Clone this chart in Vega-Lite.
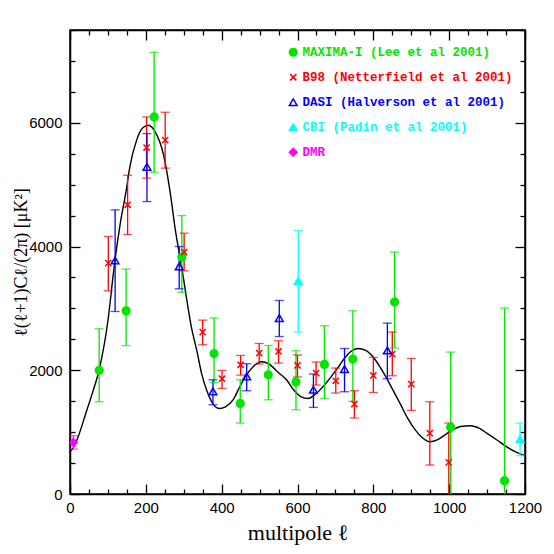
{
  "$schema": "https://vega.github.io/schema/vega-lite/v6.json",
  "width": 455,
  "height": 464,
  "autosize": "none",
  "padding": {"left": 70, "top": 30, "right": 29, "bottom": 60},
  "background": "white",
  "resolve": {"axis": {"x": "independent", "y": "independent"}},
  "config": {
    "view": {"stroke": "black", "strokeWidth": 1.5},
    "axis": {"grid": false, "domainColor": "black", "domainWidth": 1.5, "tickColor": "black", "tickWidth": 1.3, "labelColor": "black", "labelFont": "Liberation Sans", "labelFontSize": 15, "labelOverlap": false, "labelFlush": false, "titleColor": "black", "titleFont": "Liberation Serif", "titleFontSize": 18, "titleFontWeight": "normal"}
  },
  "datasets": {
    "curve": [
      {"l": 2, "v": 700}, {"l": 9, "v": 750}, {"l": 20, "v": 900}, {"l": 42, "v": 1308}, {"l": 60, "v": 1650},
      {"l": 77, "v": 2008}, {"l": 100, "v": 2800}, {"l": 117, "v": 3700}, {"l": 132, "v": 4350}, {"l": 148, "v": 4900},
      {"l": 158, "v": 5292}, {"l": 176, "v": 5724}, {"l": 192, "v": 5920}, {"l": 207, "v": 5961}, {"l": 225, "v": 5850},
      {"l": 246, "v": 5500}, {"l": 266, "v": 4800}, {"l": 277, "v": 4300}, {"l": 295, "v": 3650}, {"l": 308, "v": 3140},
      {"l": 320, "v": 2700}, {"l": 334, "v": 2331}, {"l": 347, "v": 1950}, {"l": 360, "v": 1685}, {"l": 378, "v": 1450},
      {"l": 394, "v": 1383}, {"l": 410, "v": 1410}, {"l": 431, "v": 1530}, {"l": 448, "v": 1738}, {"l": 466, "v": 1930},
      {"l": 485, "v": 2070}, {"l": 505, "v": 2137}, {"l": 525, "v": 2100}, {"l": 550, "v": 1960}, {"l": 571, "v": 1846},
      {"l": 590, "v": 1680}, {"l": 610, "v": 1570}, {"l": 628, "v": 1544}, {"l": 645, "v": 1600}, {"l": 665, "v": 1720},
      {"l": 686, "v": 1874}, {"l": 705, "v": 2030}, {"l": 721, "v": 2170}, {"l": 740, "v": 2300}, {"l": 760, "v": 2352},
      {"l": 780, "v": 2320}, {"l": 800, "v": 2210}, {"l": 820, "v": 2030}, {"l": 850, "v": 1700}, {"l": 870, "v": 1470},
      {"l": 890, "v": 1230}, {"l": 910, "v": 1040}, {"l": 930, "v": 905}, {"l": 949, "v": 845}, {"l": 970, "v": 880},
      {"l": 990, "v": 960}, {"l": 1010, "v": 1040}, {"l": 1030, "v": 1090}, {"l": 1057, "v": 1103}, {"l": 1080, "v": 1060},
      {"l": 1100, "v": 980}, {"l": 1125, "v": 877}, {"l": 1150, "v": 770}, {"l": 1175, "v": 680}, {"l": 1200, "v": 619}
    ],
    "pts": [
      {"exp": "MAXIMA-I (Lee et al 2001)", "l": 77, "v": 2000, "lo": 1490, "hi": 2670},
      {"exp": "MAXIMA-I (Lee et al 2001)", "l": 148, "v": 2960, "lo": 2400, "hi": 3635},
      {"exp": "MAXIMA-I (Lee et al 2001)", "l": 222, "v": 6095, "lo": 5200, "hi": 7140},
      {"exp": "MAXIMA-I (Lee et al 2001)", "l": 295, "v": 3830, "lo": 3260, "hi": 4500},
      {"exp": "MAXIMA-I (Lee et al 2001)", "l": 380, "v": 2270, "lo": 1800, "hi": 2845},
      {"exp": "MAXIMA-I (Lee et al 2001)", "l": 449, "v": 1464, "lo": 1147, "hi": 1846},
      {"exp": "MAXIMA-I (Lee et al 2001)", "l": 523, "v": 1927, "lo": 1523, "hi": 2400},
      {"exp": "MAXIMA-I (Lee et al 2001)", "l": 596, "v": 1809, "lo": 1362, "hi": 2315},
      {"exp": "MAXIMA-I (Lee et al 2001)", "l": 671, "v": 2094, "lo": 1545, "hi": 2719},
      {"exp": "MAXIMA-I (Lee et al 2001)", "l": 746, "v": 2181, "lo": 1497, "hi": 2961},
      {"exp": "MAXIMA-I (Lee et al 2001)", "l": 856, "v": 3102, "lo": 2359, "hi": 3910},
      {"exp": "MAXIMA-I (Lee et al 2001)", "l": 1004, "v": 1080, "lo": -300, "hi": 2294},
      {"exp": "MAXIMA-I (Lee et al 2001)", "l": 1146, "v": 215, "lo": -500, "hi": 3005},
      {"exp": "B98 (Netterfield et al 2001)", "l": 101, "v": 3732, "lo": 3284, "hi": 4162},
      {"exp": "B98 (Netterfield et al 2001)", "l": 152, "v": 4675, "lo": 4194, "hi": 5153},
      {"exp": "B98 (Netterfield et al 2001)", "l": 202, "v": 5600, "lo": 5105, "hi": 6095},
      {"exp": "B98 (Netterfield et al 2001)", "l": 251, "v": 5719, "lo": 5267, "hi": 6171},
      {"exp": "B98 (Netterfield et al 2001)", "l": 301, "v": 3910, "lo": 3607, "hi": 4216},
      {"exp": "B98 (Netterfield et al 2001)", "l": 350, "v": 2617, "lo": 2412, "hi": 2811},
      {"exp": "B98 (Netterfield et al 2001)", "l": 401, "v": 1863, "lo": 1706, "hi": 1997},
      {"exp": "B98 (Netterfield et al 2001)", "l": 450, "v": 2089, "lo": 1922, "hi": 2239},
      {"exp": "B98 (Netterfield et al 2001)", "l": 499, "v": 2278, "lo": 2100, "hi": 2433},
      {"exp": "B98 (Netterfield et al 2001)", "l": 550, "v": 2304, "lo": 2116, "hi": 2477},
      {"exp": "B98 (Netterfield et al 2001)", "l": 600, "v": 2078, "lo": 1890, "hi": 2246},
      {"exp": "B98 (Netterfield et al 2001)", "l": 649, "v": 1955, "lo": 1761, "hi": 2133},
      {"exp": "B98 (Netterfield et al 2001)", "l": 701, "v": 1830, "lo": 1632, "hi": 2036},
      {"exp": "B98 (Netterfield et al 2001)", "l": 750, "v": 1454, "lo": 1228, "hi": 1669},
      {"exp": "B98 (Netterfield et al 2001)", "l": 800, "v": 1916, "lo": 1641, "hi": 2207},
      {"exp": "B98 (Netterfield et al 2001)", "l": 850, "v": 2262, "lo": 1911, "hi": 2617},
      {"exp": "B98 (Netterfield et al 2001)", "l": 900, "v": 1777, "lo": 1351, "hi": 2191},
      {"exp": "B98 (Netterfield et al 2001)", "l": 949, "v": 985, "lo": 468, "hi": 1491},
      {"exp": "B98 (Netterfield et al 2001)", "l": 999, "v": 512, "lo": -300, "hi": 1147},
      {"exp": "DASI (Halverson et al 2001)", "l": 119, "v": 3774, "lo": 2950, "hi": 4593},
      {"exp": "DASI (Halverson et al 2001)", "l": 203, "v": 5288, "lo": 4727, "hi": 5826},
      {"exp": "DASI (Halverson et al 2001)", "l": 288, "v": 3677, "lo": 3317, "hi": 4000},
      {"exp": "DASI (Halverson et al 2001)", "l": 377, "v": 1658, "lo": 1443, "hi": 1846},
      {"exp": "DASI (Halverson et al 2001)", "l": 466, "v": 1900, "lo": 1669, "hi": 2105},
      {"exp": "DASI (Halverson et al 2001)", "l": 552, "v": 2843, "lo": 2546, "hi": 3128},
      {"exp": "DASI (Halverson et al 2001)", "l": 642, "v": 1685, "lo": 1399, "hi": 1939},
      {"exp": "DASI (Halverson et al 2001)", "l": 724, "v": 2019, "lo": 1653, "hi": 2352},
      {"exp": "DASI (Halverson et al 2001)", "l": 837, "v": 2320, "lo": 1863, "hi": 2762},
      {"exp": "CBI (Padin et al 2001)", "l": 602, "v": 3446, "lo": 2617, "hi": 4259},
      {"exp": "CBI (Padin et al 2001)", "l": 1187, "v": 888, "lo": 619, "hi": 1147},
      {"exp": "DMR", "l": 9, "v": 834, "lo": 727, "hi": 942}
    ]
  },
  "layer": [
    {
      "data": {"name": "curve"},
      "mark": {"type": "line", "color": "black", "strokeWidth": 1.4, "interpolate": "monotone", "clip": true},
      "encoding": {
        "x": {"field": "l", "type": "quantitative", "scale": {"domain": [0, 1200], "nice": false, "zero": false},
          "axis": {"orient": "bottom", "values": [0, 200, 400, 600, 800, 1000, 1200], "format": "d",
            "tickSize": -10, "labelPadding": 16, "title": "multipole ℓ", "titleFontSize": 22, "titlePadding": 7}},
        "y": {"field": "v", "type": "quantitative", "scale": {"domain": [0, 7500], "nice": false},
          "axis": {"orient": "left", "values": [0, 2000, 4000, 6000], "format": "d",
            "tickSize": -10, "labelPadding": 18, "title": "ℓ(ℓ+1)Cℓ/(2π)  [μK²]", "titleX": -40}}
      }
    },
    {
      "data": {"name": "pts"},
      "mark": {"type": "rule", "strokeWidth": 1.3, "clip": true},
      "encoding": {
        "x": {"field": "l", "type": "quantitative",
          "axis": {"orient": "top", "values": [0, 200, 400, 600, 800, 1000, 1200], "labels": false, "title": null, "tickSize": -10}},
        "y": {"field": "lo", "type": "quantitative",
          "axis": {"orient": "right", "values": [0, 2000, 4000, 6000], "labels": false, "title": null, "tickSize": -10}},
        "y2": {"field": "hi"},
        "color": {"field": "exp", "type": "nominal", "legend": null,
          "scale": {"range": ["#ff0000", "#00ffff", "#0000ff", "#ff00ff", "#00e600"]}}
      }
    },
    {
      "data": {"name": "pts"},
      "mark": {"type": "tick", "orient": "horizontal", "size": 9, "thickness": 1.3, "clip": true},
      "encoding": {
        "x": {"field": "l", "type": "quantitative",
          "axis": {"orient": "bottom", "values": [50,100,150,250,300,350,450,500,550,650,700,750,850,900,950,1050,1100,1150], "labels": false, "title": null, "domain": false, "tickSize": -5}},
        "y": {"field": "hi", "type": "quantitative",
          "axis": {"orient": "left", "values": [500,1000,1500,2500,3000,3500,4500,5000,5500,6500,7000,7500], "labels": false, "title": null, "domain": false, "tickSize": -5}},
        "color": {"field": "exp", "type": "nominal", "legend": null}
      }
    },
    {
      "data": {"name": "pts"},
      "mark": {"type": "tick", "orient": "horizontal", "size": 9, "thickness": 1.3, "clip": true},
      "encoding": {
        "x": {"field": "l", "type": "quantitative",
          "axis": {"orient": "top", "values": [50,100,150,250,300,350,450,500,550,650,700,750,850,900,950,1050,1100,1150], "labels": false, "title": null, "domain": false, "tickSize": -5}},
        "y": {"field": "lo", "type": "quantitative",
          "axis": {"orient": "right", "values": [500,1000,1500,2500,3000,3500,4500,5000,5500,6500,7000,7500], "labels": false, "title": null, "domain": false, "tickSize": -5}},
        "color": {"field": "exp", "type": "nominal", "legend": null}
      }
    },
    {
      "data": {"name": "pts"},
      "mark": {"type": "point", "size": 60, "strokeWidth": 1.5, "opacity": 1, "clip": true},
      "encoding": {
        "x": {"field": "l", "type": "quantitative", "axis": null},
        "y": {"field": "v", "type": "quantitative", "axis": null},
        "shape": {"field": "exp", "type": "nominal",
          "scale": {"domain": ["MAXIMA-I (Lee et al 2001)", "B98 (Netterfield et al 2001)", "DASI (Halverson et al 2001)", "CBI (Padin et al 2001)", "DMR"],
            "range": ["circle", "M-0.8,-0.8L0.8,0.8M0.8,-0.8L-0.8,0.8", "triangle-up", "triangle-up", "diamond"]},
          "legend": {"orient": "none", "legendX": 217, "legendY": 16, "title": null, "padding": 0,
            "labelFont": "Liberation Mono", "labelFontSize": 12.5, "labelFontWeight": "bold", "labelLimit": 400,
            "labelColor": {"expr": "indexof(datum.label,'MAXIMA')==0 ? '#00e600' : indexof(datum.label,'B98')==0 ? '#ff0000' : indexof(datum.label,'DASI')==0 ? '#0000ff' : indexof(datum.label,'CBI')==0 ? '#00ffff' : '#ff00ff'"},
            "symbolSize": 60, "symbolStrokeWidth": 1.5, "rowPadding": 11, "labelOffset": 3}},
        "fill": {"field": "exp", "type": "nominal",
          "scale": {"domain": ["MAXIMA-I (Lee et al 2001)", "B98 (Netterfield et al 2001)", "DASI (Halverson et al 2001)", "CBI (Padin et al 2001)", "DMR"],
            "range": ["#00e600", "transparent", "transparent", "#00ffff", "#ff00ff"]},
          "legend": {"orient": "none", "legendX": 217, "legendY": 16, "title": null, "padding": 0,
            "labelFont": "Liberation Mono", "labelFontSize": 12.5, "labelFontWeight": "bold", "labelLimit": 400,
            "labelColor": {"expr": "indexof(datum.label,'MAXIMA')==0 ? '#00e600' : indexof(datum.label,'B98')==0 ? '#ff0000' : indexof(datum.label,'DASI')==0 ? '#0000ff' : indexof(datum.label,'CBI')==0 ? '#00ffff' : '#ff00ff'"},
            "symbolSize": 60, "symbolStrokeWidth": 1.5, "rowPadding": 11, "labelOffset": 3}},
        "stroke": {"field": "exp", "type": "nominal",
          "scale": {"domain": ["MAXIMA-I (Lee et al 2001)", "B98 (Netterfield et al 2001)", "DASI (Halverson et al 2001)", "CBI (Padin et al 2001)", "DMR"],
            "range": ["#00e600", "#ff0000", "#0000ff", "#00ffff", "#ff00ff"]},
          "legend": {"orient": "none", "legendX": 217, "legendY": 16, "title": null, "padding": 0,
            "labelFont": "Liberation Mono", "labelFontSize": 12.5, "labelFontWeight": "bold", "labelLimit": 400,
            "labelColor": {"expr": "indexof(datum.label,'MAXIMA')==0 ? '#00e600' : indexof(datum.label,'B98')==0 ? '#ff0000' : indexof(datum.label,'DASI')==0 ? '#0000ff' : indexof(datum.label,'CBI')==0 ? '#00ffff' : '#ff00ff'"},
            "symbolSize": 60, "symbolStrokeWidth": 1.5, "rowPadding": 11, "labelOffset": 3}}
      }
    }
  ]
}
